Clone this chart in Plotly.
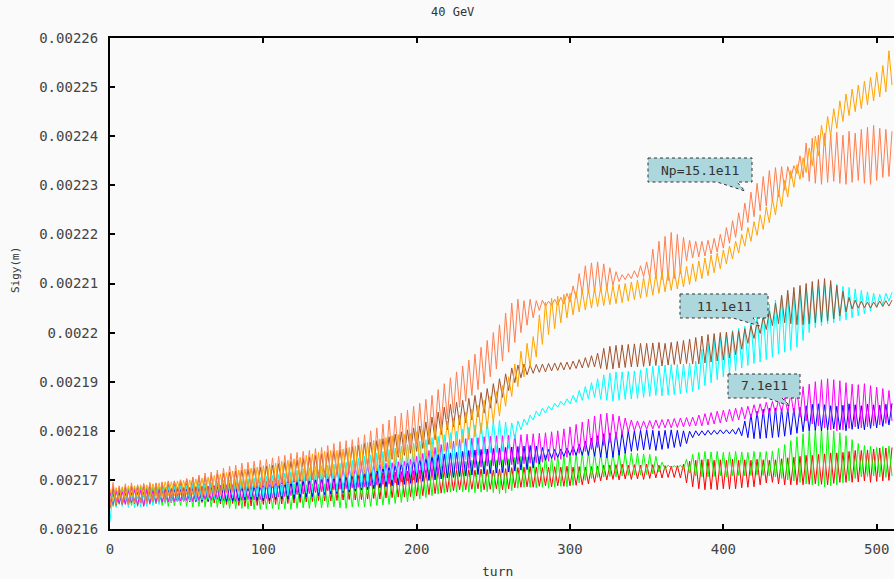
import plotly.graph_objects as go

# ---------------- data: sigma_y in micrometres, one value every 2 turns ----------------
step_turns = 2

sig_coral_um = [
    2164.5, 2169.5, 2165.0, 2168.8, 2165.2, 2169.2, 2165.0, 2169.4, 2165.3, 2169.0, 2165.4, 2169.3, 2165.2, 2169.5, 2165.5, 2169.4,
    2165.6, 2169.6, 2165.4, 2169.8, 2165.8, 2169.7, 2166.0, 2170.0, 2165.8, 2170.3, 2166.2, 2170.6, 2166.4, 2171.0, 2166.6, 2171.4,
    2166.5, 2171.6, 2166.8, 2172.0, 2167.0, 2172.4, 2167.3, 2172.8, 2167.5, 2173.0, 2167.8, 2173.4, 2168.2, 2173.6, 2168.4, 2173.8,
    2168.6, 2174.0, 2168.8, 2174.2, 2169.0, 2174.5, 2169.2, 2174.8, 2169.4, 2175.0, 2169.6, 2175.4, 2169.8, 2175.6, 2170.0, 2175.8,
    2170.0, 2176.0, 2170.2, 2176.4, 2170.4, 2176.6, 2170.6, 2177.0, 2170.8, 2177.4, 2171.0, 2177.8, 2171.2, 2178.0, 2171.4, 2178.2,
    2171.6, 2178.6, 2171.8, 2179.2, 2172.2, 2180.0, 2172.6, 2180.6, 2173.0, 2181.4, 2173.6, 2182.2, 2174.4, 2183.0, 2175.0, 2183.6,
    2175.6, 2184.2, 2176.4, 2185.0, 2177.2, 2185.6, 2178.0, 2186.4, 2178.8, 2187.2, 2179.8, 2188.4, 2181.0, 2189.6, 2182.4, 2190.8,
    2183.6, 2192.0, 2184.8, 2193.2, 2186.0, 2194.4, 2187.2, 2195.6, 2188.4, 2197.0, 2189.6, 2198.4, 2191.0, 2200.0, 2192.6, 2201.6,
    2194.2, 2204.0, 2196.0, 2206.0, 2198.0, 2206.8, 2200.0, 2206.5, 2201.5, 2206.8, 2203.0, 2206.5, 2204.5, 2206.6, 2205.4, 2206.4,
    2205.5, 2206.8, 2205.6, 2207.2, 2205.8, 2208.0, 2206.2, 2209.5, 2207.0, 2212.0, 2207.8, 2213.6, 2208.0, 2214.2, 2208.2, 2214.4,
    2208.4, 2214.0, 2208.8, 2213.2, 2209.6, 2212.4, 2210.4, 2211.8, 2210.8, 2212.0, 2211.0, 2212.6, 2211.2, 2213.6, 2211.4, 2214.4,
    2211.2, 2217.0, 2211.0, 2218.6, 2210.8, 2219.6, 2210.6, 2220.4, 2211.0, 2220.0, 2212.0, 2219.4, 2214.6, 2218.8, 2215.2, 2218.6,
    2215.4, 2218.6, 2215.6, 2218.8, 2216.0, 2219.2, 2216.4, 2220.0, 2217.2, 2221.4, 2218.2, 2222.8, 2219.4, 2224.4, 2220.8, 2226.4,
    2222.4, 2228.6, 2223.6, 2230.4, 2224.8, 2231.8, 2225.8, 2233.0, 2226.6, 2233.6, 2227.6, 2233.8, 2229.0, 2233.8, 2231.4, 2234.0,
    2232.4, 2236.0, 2231.6, 2238.6, 2230.8, 2239.6, 2230.4, 2240.2, 2230.2, 2240.6, 2230.6, 2240.4, 2230.8, 2240.8, 2230.4, 2240.2,
    2230.2, 2241.0, 2230.6, 2240.6, 2231.0, 2241.4, 2230.4, 2241.8, 2230.2, 2242.2, 2231.0, 2241.6, 2231.6, 2241.4, 2231.8, 2241.0,
]

sig_orange_um = [
    2168.2, 2165.6, 2168.4, 2166.0, 2168.6, 2166.0, 2168.8, 2166.2, 2168.8, 2166.2, 2169.0, 2166.4, 2169.0, 2166.4, 2169.2, 2166.6,
    2169.4, 2166.6, 2169.6, 2166.8, 2169.6, 2166.8, 2169.8, 2167.0, 2169.9, 2167.0, 2170.0, 2167.0, 2170.2, 2166.8, 2170.4, 2167.0,
    2170.6, 2167.0, 2170.9, 2167.3, 2171.2, 2167.6, 2171.5, 2167.8, 2171.8, 2168.0, 2172.0, 2168.2, 2172.2, 2168.2, 2172.4, 2168.4,
    2172.6, 2168.4, 2172.9, 2168.3, 2173.2, 2168.6, 2173.4, 2168.8, 2173.8, 2169.0, 2174.0, 2169.2, 2174.3, 2169.5, 2174.6, 2169.7,
    2175.0, 2169.8, 2175.3, 2170.0, 2175.6, 2170.1, 2175.8, 2170.2, 2176.0, 2170.2, 2176.0, 2170.3, 2176.3, 2170.5, 2176.6, 2170.7,
    2176.9, 2170.9, 2177.2, 2171.2, 2177.6, 2171.5, 2178.0, 2171.8, 2178.3, 2172.2, 2178.6, 2172.5, 2179.0, 2172.8, 2179.2, 2173.1,
    2179.3, 2173.4, 2179.5, 2173.6, 2179.8, 2173.9, 2180.0, 2174.2, 2180.4, 2174.6, 2180.8, 2175.2, 2181.4, 2175.8, 2182.0, 2176.4,
    2182.6, 2177.0, 2183.2, 2177.6, 2183.8, 2178.2, 2184.4, 2178.8, 2185.2, 2179.4, 2186.2, 2180.4, 2187.0, 2181.6, 2188.0, 2183.0,
    2189.2, 2185.0, 2191.0, 2187.0, 2193.6, 2189.0, 2196.2, 2191.0, 2197.8, 2193.0, 2199.2, 2195.0, 2203.6, 2197.6, 2206.2, 2199.6,
    2207.0, 2200.8, 2207.4, 2202.0, 2207.8, 2203.0, 2208.0, 2203.6, 2208.3, 2204.2, 2208.6, 2204.6, 2208.8, 2205.0, 2209.0, 2205.3,
    2209.2, 2205.5, 2209.4, 2205.7, 2209.6, 2205.9, 2209.8, 2206.1, 2210.0, 2206.4, 2210.3, 2206.7, 2210.7, 2207.0, 2211.2, 2207.3,
    2211.6, 2207.6, 2212.0, 2208.0, 2212.3, 2208.3, 2212.5, 2208.6, 2212.6, 2208.9, 2213.0, 2209.3, 2213.5, 2209.8, 2214.0, 2210.4,
    2214.6, 2211.0, 2215.2, 2211.6, 2215.8, 2212.2, 2216.2, 2213.0, 2216.8, 2214.0, 2217.6, 2215.0, 2218.6, 2216.2, 2220.0, 2217.6,
    2221.4, 2218.6, 2222.6, 2219.8, 2224.0, 2221.0, 2225.6, 2222.4, 2227.2, 2224.0, 2229.0, 2225.6, 2231.0, 2227.6, 2233.0, 2229.6,
    2234.2, 2231.2, 2235.6, 2232.6, 2237.6, 2234.0, 2240.0, 2236.0, 2242.2, 2238.0, 2244.0, 2240.0, 2245.6, 2241.6, 2247.2, 2243.0,
    2248.6, 2244.2, 2249.6, 2245.0, 2250.4, 2245.6, 2251.2, 2246.4, 2252.0, 2247.2, 2253.0, 2248.0, 2254.4, 2249.0, 2257.4, 2250.4,
]

sig_brown_um = [
    2164.2, 2168.6, 2164.8, 2168.4, 2165.0, 2168.6, 2165.2, 2168.8, 2165.4, 2168.8, 2165.5, 2169.0, 2165.6, 2169.1, 2165.8, 2169.2,
    2166.0, 2169.4, 2166.1, 2169.6, 2166.3, 2169.8, 2166.5, 2170.0, 2166.6, 2170.2, 2166.8, 2170.4, 2167.0, 2170.6, 2167.1, 2170.8,
    2167.2, 2171.0, 2167.4, 2171.2, 2167.5, 2171.4, 2167.6, 2171.6, 2167.8, 2171.8, 2168.0, 2172.0, 2168.1, 2172.2, 2168.3, 2172.4,
    2168.4, 2172.6, 2168.6, 2172.8, 2168.8, 2173.0, 2169.0, 2173.3, 2169.2, 2173.6, 2169.4, 2173.8, 2169.6, 2174.1, 2169.8, 2174.4,
    2169.9, 2174.7, 2170.1, 2175.0, 2170.4, 2175.3, 2170.7, 2175.6, 2171.0, 2175.9, 2171.3, 2176.2, 2171.6, 2176.5, 2171.9, 2176.8,
    2172.2, 2177.1, 2172.5, 2177.4, 2172.8, 2177.7, 2173.1, 2178.0, 2173.4, 2178.4, 2173.8, 2178.8, 2174.2, 2179.3, 2174.6, 2179.8,
    2175.0, 2180.2, 2175.4, 2180.6, 2175.8, 2181.0, 2176.4, 2181.8, 2177.2, 2182.8, 2178.2, 2183.8, 2179.2, 2184.8, 2180.2, 2185.4,
    2180.8, 2185.8, 2181.2, 2186.2, 2181.6, 2186.6, 2182.2, 2187.2, 2182.8, 2187.8, 2183.6, 2188.6, 2184.6, 2189.6, 2185.6, 2190.6,
    2186.8, 2191.6, 2188.2, 2192.8, 2189.8, 2193.4, 2190.8, 2193.6, 2191.4, 2193.4, 2191.7, 2193.5, 2191.9, 2193.6, 2192.0, 2193.7,
    2192.2, 2193.8, 2192.3, 2193.9, 2192.4, 2194.0, 2192.5, 2194.2, 2192.7, 2194.5, 2192.8, 2194.9, 2192.9, 2195.3, 2193.0, 2195.8,
    2192.7, 2196.8, 2192.5, 2197.2, 2192.6, 2197.4, 2192.8, 2197.5, 2192.9, 2197.6, 2193.0, 2197.7, 2193.0, 2197.8, 2193.1, 2197.8,
    2193.2, 2197.9, 2193.3, 2198.0, 2193.2, 2197.8, 2193.4, 2198.0, 2193.5, 2198.2, 2193.6, 2198.4, 2193.7, 2198.7, 2193.6, 2199.0,
    2193.6, 2199.3, 2193.8, 2199.6, 2194.0, 2199.8, 2194.2, 2200.0, 2194.4, 2200.1, 2194.8, 2200.2, 2195.5, 2200.4, 2196.6, 2200.8,
    2197.8, 2201.4, 2198.8, 2202.2, 2199.8, 2203.2, 2200.6, 2204.4, 2201.4, 2206.0, 2201.8, 2207.6, 2202.0, 2208.6, 2201.8, 2209.2,
    2201.6, 2209.6, 2201.6, 2210.0, 2201.8, 2210.4, 2202.0, 2210.8, 2202.2, 2211.0, 2202.4, 2210.6, 2202.8, 2209.6, 2203.4, 2208.4,
    2204.2, 2207.2, 2204.8, 2206.6, 2205.0, 2206.4, 2205.1, 2206.2, 2205.0, 2206.2, 2205.2, 2206.4, 2205.3, 2206.5, 2205.4, 2206.6,
]

sig_cyan_um = [
    2161.5, 2168.0, 2164.4, 2168.4, 2164.6, 2168.0, 2164.4, 2168.2, 2164.3, 2168.2, 2164.5, 2168.3, 2164.6, 2168.4, 2164.8, 2168.5,
    2165.0, 2168.6, 2165.2, 2168.7, 2165.4, 2168.8, 2165.5, 2168.9, 2165.6, 2169.0, 2165.7, 2169.1, 2165.8, 2169.2, 2165.9, 2169.3,
    2166.0, 2169.5, 2166.0, 2169.7, 2166.1, 2169.9, 2166.2, 2170.0, 2166.3, 2170.1, 2166.4, 2170.2, 2166.5, 2170.3, 2166.5, 2170.4,
    2166.5, 2170.5, 2166.3, 2170.7, 2166.4, 2170.9, 2166.5, 2171.1, 2166.7, 2171.4, 2166.8, 2171.7, 2167.0, 2172.0, 2167.1, 2172.3,
    2167.3, 2172.5, 2167.4, 2172.7, 2167.5, 2172.9, 2167.5, 2173.0, 2167.7, 2173.2, 2167.6, 2173.4, 2167.7, 2173.6, 2168.0, 2174.0,
    2168.2, 2174.4, 2168.4, 2174.8, 2168.6, 2175.1, 2169.0, 2175.5, 2169.3, 2175.8, 2169.7, 2176.2, 2170.0, 2176.5, 2170.4, 2176.9,
    2170.7, 2177.2, 2171.0, 2177.5, 2171.4, 2177.9, 2171.8, 2178.2, 2172.1, 2178.6, 2172.4, 2178.9, 2172.8, 2179.2, 2173.1, 2179.6,
    2173.4, 2179.9, 2173.7, 2180.3, 2174.1, 2180.7, 2174.6, 2181.2, 2175.0, 2181.6, 2175.3, 2181.9, 2175.5, 2182.1, 2175.6, 2182.1,
    2175.8, 2181.8, 2176.4, 2181.6, 2178.4, 2182.0, 2180.2, 2182.4, 2181.2, 2183.2, 2182.2, 2184.0, 2183.0, 2184.6, 2183.6, 2185.0,
    2184.2, 2185.6, 2184.8, 2186.0, 2185.2, 2186.5, 2185.5, 2187.2, 2185.8, 2188.2, 2186.2, 2189.0, 2186.5, 2189.8, 2186.8, 2190.6,
    2186.4, 2191.4, 2186.2, 2191.8, 2186.0, 2192.0, 2186.2, 2192.0, 2186.4, 2192.1, 2186.5, 2192.2, 2186.6, 2192.4, 2186.8, 2192.8,
    2187.0, 2193.1, 2187.2, 2193.3, 2187.1, 2193.4, 2187.3, 2193.5, 2187.4, 2193.5, 2187.5, 2193.6, 2187.8, 2193.8, 2188.0, 2194.2,
    2188.4, 2196.6, 2189.2, 2197.8, 2189.8, 2198.6, 2190.4, 2199.2, 2191.0, 2199.8, 2191.6, 2200.4, 2192.2, 2200.9, 2192.8, 2201.3,
    2193.3, 2202.8, 2193.7, 2204.0, 2194.0, 2205.0, 2194.5, 2205.8, 2195.0, 2206.6, 2195.6, 2207.4, 2196.0, 2207.9, 2196.4, 2208.2,
    2197.0, 2208.6, 2198.4, 2209.0, 2200.0, 2209.2, 2201.0, 2209.5, 2201.4, 2209.8, 2201.8, 2210.0, 2202.0, 2209.8, 2202.4, 2209.4,
    2202.6, 2209.2, 2203.0, 2208.9, 2203.4, 2208.6, 2203.8, 2208.3, 2204.4, 2208.0, 2205.0, 2207.8, 2205.6, 2208.0, 2206.4, 2208.2,
]

sig_magenta_um = [
    2167.5, 2165.0, 2167.8, 2165.2, 2167.6, 2165.0, 2167.8, 2165.3, 2168.0, 2164.8, 2167.9, 2164.6, 2168.0, 2165.2, 2167.8, 2165.4,
    2168.0, 2165.5, 2168.1, 2165.5, 2168.2, 2165.6, 2168.2, 2165.7, 2168.3, 2165.8, 2168.4, 2165.6, 2168.5, 2165.8, 2168.6, 2166.0,
    2168.7, 2165.8, 2168.8, 2166.0, 2168.9, 2165.8, 2169.0, 2165.8, 2169.0, 2165.6, 2169.1, 2165.8, 2169.2, 2166.0, 2169.3, 2165.9,
    2169.4, 2166.0, 2169.6, 2166.2, 2169.8, 2166.3, 2170.0, 2166.5, 2170.3, 2166.6, 2170.5, 2166.8, 2170.8, 2167.0, 2171.0, 2167.1,
    2171.2, 2167.2, 2171.4, 2167.4, 2171.6, 2167.6, 2171.8, 2167.8, 2172.0, 2168.0, 2172.2, 2168.1, 2172.4, 2168.2, 2172.5, 2168.4,
    2172.6, 2168.5, 2172.8, 2168.6, 2173.0, 2168.8, 2173.1, 2169.0, 2173.2, 2169.1, 2173.4, 2169.2, 2173.5, 2169.4, 2173.7, 2169.6,
    2173.8, 2169.8, 2174.2, 2170.0, 2174.8, 2170.2, 2175.4, 2170.5, 2176.0, 2170.8, 2176.6, 2171.2, 2177.2, 2171.6, 2177.6, 2172.0,
    2177.9, 2172.1, 2178.2, 2172.2, 2178.4, 2172.3, 2178.5, 2172.5, 2178.6, 2172.6, 2178.8, 2172.8, 2178.9, 2172.9, 2179.0, 2173.0,
    2179.0, 2173.0, 2179.1, 2173.1, 2179.2, 2173.2, 2179.2, 2173.3, 2179.3, 2173.4, 2179.4, 2173.5, 2179.5, 2173.6, 2179.6, 2173.8,
    2179.8, 2174.0, 2180.0, 2174.2, 2180.4, 2174.6, 2180.8, 2175.0, 2181.3, 2175.4, 2181.8, 2175.8, 2182.4, 2176.2, 2183.0, 2176.6,
    2183.4, 2177.0, 2183.6, 2177.6, 2183.4, 2178.4, 2183.0, 2179.2, 2182.6, 2179.8, 2182.2, 2180.0, 2182.0, 2180.2, 2182.0, 2180.3,
    2182.1, 2180.4, 2182.2, 2180.5, 2182.3, 2180.6, 2182.4, 2180.6, 2182.5, 2180.7, 2182.6, 2180.8, 2182.7, 2180.9, 2182.8, 2181.0,
    2183.2, 2181.0, 2183.5, 2181.2, 2183.7, 2181.4, 2184.0, 2181.6, 2184.2, 2181.8, 2184.4, 2182.0, 2184.6, 2182.2, 2184.8, 2182.4,
    2185.0, 2182.7, 2185.3, 2183.0, 2185.5, 2183.2, 2185.8, 2183.4, 2186.0, 2183.6, 2186.3, 2183.8, 2186.8, 2183.8, 2187.6, 2183.4,
    2188.4, 2182.8, 2189.0, 2182.0, 2189.5, 2181.4, 2190.0, 2181.0, 2190.4, 2180.6, 2190.6, 2180.2, 2190.4, 2180.0, 2190.2, 2180.2,
    2189.8, 2180.5, 2189.5, 2180.8, 2189.4, 2180.6, 2189.6, 2180.8, 2189.2, 2181.0, 2188.9, 2181.2, 2188.6, 2181.5, 2188.2, 2182.0,
]

sig_blue_um = [
    2165.0, 2167.2, 2165.0, 2167.4, 2165.1, 2167.3, 2165.0, 2167.4, 2165.2, 2167.5, 2165.3, 2167.5, 2165.4, 2167.6, 2165.4, 2167.7,
    2165.5, 2167.8, 2165.5, 2167.9, 2165.6, 2168.0, 2165.6, 2168.0, 2165.7, 2168.1, 2165.8, 2168.2, 2165.6, 2168.2, 2165.7, 2168.3,
    2165.8, 2168.4, 2165.9, 2168.5, 2165.7, 2168.5, 2165.6, 2168.6, 2165.7, 2168.7, 2165.8, 2168.8, 2165.9, 2168.8, 2166.0, 2168.9,
    2165.8, 2169.0, 2165.7, 2169.1, 2165.8, 2169.3, 2166.0, 2169.4, 2166.1, 2169.6, 2166.1, 2169.7, 2166.2, 2169.9, 2166.4, 2170.0,
    2166.5, 2170.2, 2166.6, 2170.4, 2166.8, 2170.6, 2167.0, 2170.8, 2167.1, 2171.0, 2167.2, 2171.1, 2167.4, 2171.3, 2167.5, 2171.5,
    2167.7, 2171.7, 2167.9, 2171.9, 2168.0, 2172.1, 2168.2, 2172.4, 2168.4, 2172.7, 2168.6, 2173.0, 2168.8, 2173.3, 2169.0, 2173.6,
    2169.1, 2174.0, 2169.3, 2174.3, 2169.5, 2174.6, 2169.7, 2174.8, 2169.9, 2175.0, 2170.0, 2175.2, 2170.2, 2175.3, 2170.4, 2175.5,
    2170.5, 2175.6, 2170.7, 2175.8, 2170.8, 2176.0, 2171.0, 2176.1, 2171.1, 2176.2, 2171.2, 2176.3, 2171.3, 2176.4, 2171.4, 2176.5,
    2171.5, 2176.6, 2171.6, 2176.7, 2171.8, 2176.8, 2172.0, 2176.9, 2172.1, 2177.0, 2172.4, 2176.9, 2173.2, 2176.6, 2174.0, 2176.2,
    2174.4, 2176.2, 2174.6, 2176.3, 2174.8, 2176.5, 2175.0, 2176.8, 2175.0, 2177.3, 2175.0, 2177.9, 2175.0, 2178.5, 2174.8, 2179.0,
    2174.6, 2179.4, 2174.5, 2179.6, 2174.6, 2179.7, 2175.0, 2179.8, 2175.4, 2180.0, 2175.8, 2180.0, 2176.0, 2180.1, 2176.1, 2180.2,
    2176.2, 2180.1, 2176.0, 2180.0, 2176.2, 2180.1, 2176.4, 2180.2, 2176.6, 2180.1, 2176.8, 2180.0, 2177.4, 2179.9, 2178.6, 2180.0,
    2179.0, 2180.0, 2179.1, 2180.1, 2179.2, 2180.1, 2179.3, 2180.2, 2179.4, 2180.2, 2179.4, 2180.3, 2179.3, 2180.6, 2179.0, 2182.0,
    2178.6, 2183.4, 2178.4, 2184.0, 2178.4, 2184.4, 2178.5, 2184.6, 2178.6, 2184.6, 2178.7, 2184.5, 2178.9, 2184.5, 2179.2, 2184.6,
    2179.5, 2184.8, 2179.8, 2185.1, 2180.0, 2185.4, 2180.1, 2185.5, 2180.0, 2185.3, 2180.2, 2185.1, 2180.4, 2185.0, 2180.2, 2185.2,
    2180.0, 2185.5, 2180.3, 2185.3, 2180.4, 2185.1, 2180.2, 2185.4, 2180.5, 2185.3, 2180.6, 2185.2, 2180.9, 2185.4, 2181.2, 2185.6,
]

sig_green_um = [
    2167.5, 2164.6, 2168.0, 2165.0, 2168.4, 2165.2, 2168.3, 2164.8, 2168.5, 2164.6, 2168.6, 2164.8, 2168.4, 2165.0, 2168.5, 2165.1,
    2168.6, 2164.8, 2168.5, 2164.6, 2168.4, 2164.7, 2168.6, 2164.8, 2168.6, 2164.6, 2168.5, 2164.5, 2168.7, 2164.6, 2168.8, 2164.5,
    2168.7, 2164.5, 2168.8, 2164.4, 2168.6, 2164.3, 2168.8, 2164.2, 2168.9, 2164.1, 2169.0, 2164.2, 2169.0, 2164.1, 2169.0, 2164.0,
    2169.1, 2164.0, 2169.0, 2164.1, 2169.1, 2164.2, 2169.2, 2164.0, 2169.0, 2164.1, 2169.2, 2164.0, 2169.1, 2164.2, 2169.2, 2164.3,
    2169.0, 2164.2, 2169.2, 2164.4, 2169.1, 2164.3, 2169.2, 2164.4, 2169.3, 2164.5, 2169.2, 2164.3, 2169.4, 2164.2, 2169.3, 2164.5,
    2169.4, 2164.6, 2169.5, 2164.5, 2169.6, 2164.6, 2169.7, 2164.8, 2169.8, 2164.9, 2170.0, 2165.0, 2170.2, 2165.2, 2170.5, 2165.4,
    2170.8, 2165.5, 2171.1, 2165.8, 2171.5, 2166.1, 2171.9, 2166.4, 2172.3, 2166.8, 2172.8, 2167.1, 2173.3, 2167.3, 2173.7, 2167.5,
    2173.8, 2167.5, 2174.0, 2167.6, 2173.8, 2167.5, 2174.0, 2167.4, 2173.7, 2167.5, 2173.8, 2167.6, 2174.0, 2167.4, 2174.0, 2167.2,
    2174.1, 2167.3, 2174.3, 2167.8, 2174.6, 2168.3, 2174.8, 2168.5, 2174.7, 2168.5, 2174.6, 2168.4, 2174.8, 2168.5, 2175.0, 2168.3,
    2174.7, 2168.5, 2174.9, 2168.7, 2175.0, 2168.6, 2175.2, 2168.9, 2175.5, 2169.4, 2175.7, 2169.9, 2175.8, 2170.3, 2175.6, 2170.5,
    2175.5, 2170.6, 2175.6, 2170.7, 2175.6, 2170.6, 2175.5, 2170.8, 2175.6, 2170.9, 2175.5, 2171.0, 2175.4, 2171.0, 2175.3, 2171.1,
    2175.2, 2171.2, 2174.8, 2171.6, 2173.6, 2172.2, 2173.0, 2172.4, 2172.9, 2172.4, 2173.0, 2172.2, 2174.2, 2171.4, 2175.2, 2170.8,
    2175.6, 2170.6, 2175.8, 2170.6, 2175.7, 2170.7, 2175.8, 2170.8, 2175.6, 2170.6, 2175.7, 2170.8, 2175.8, 2170.9, 2175.7, 2170.8,
    2175.6, 2170.9, 2175.8, 2171.0, 2175.7, 2170.9, 2175.8, 2170.8, 2175.9, 2170.6, 2176.4, 2170.3, 2177.2, 2170.0, 2178.0, 2169.8,
    2178.8, 2169.5, 2179.4, 2169.2, 2180.0, 2169.0, 2180.4, 2168.8, 2180.6, 2168.6, 2180.4, 2168.8, 2180.0, 2169.0, 2179.6, 2169.4,
    2179.0, 2169.8, 2178.2, 2170.3, 2177.4, 2170.6, 2177.0, 2170.7, 2176.8, 2170.8, 2176.6, 2170.6, 2176.8, 2170.5, 2176.9, 2170.8,
]

sig_red_um = [
    2164.8, 2168.2, 2165.2, 2168.4, 2165.0, 2168.3, 2165.4, 2168.6, 2165.2, 2168.5, 2165.4, 2168.7, 2165.5, 2168.6, 2165.5, 2168.8,
    2165.4, 2168.8, 2165.5, 2168.9, 2165.3, 2169.0, 2165.5, 2169.1, 2165.6, 2169.2, 2165.5, 2169.0, 2165.6, 2169.1, 2165.4, 2169.2,
    2165.5, 2169.3, 2165.3, 2169.4, 2165.1, 2169.3, 2165.0, 2169.4, 2165.2, 2169.5, 2164.8, 2169.5, 2164.6, 2169.6, 2164.7, 2169.5,
    2164.8, 2169.6, 2165.0, 2169.7, 2165.1, 2169.8, 2165.0, 2169.9, 2165.1, 2170.0, 2165.2, 2170.0, 2165.3, 2170.1, 2165.4, 2170.2,
    2165.5, 2170.3, 2165.6, 2170.4, 2165.8, 2170.5, 2165.7, 2170.6, 2165.7, 2170.7, 2165.8, 2170.8, 2165.9, 2170.9, 2166.0, 2171.0,
    2165.9, 2171.0, 2166.0, 2171.1, 2166.1, 2171.2, 2166.2, 2171.3, 2166.1, 2171.4, 2166.3, 2171.5, 2166.4, 2171.6, 2166.5, 2171.7,
    2166.5, 2171.8, 2166.6, 2171.9, 2166.7, 2172.0, 2166.8, 2172.0, 2167.0, 2172.1, 2167.2, 2172.2, 2167.3, 2172.0, 2167.5, 2172.2,
    2167.8, 2172.0, 2168.0, 2172.2, 2168.0, 2172.1, 2168.1, 2172.0, 2168.2, 2172.2, 2168.0, 2172.1, 2168.1, 2172.0, 2168.2, 2172.2,
    2168.0, 2172.3, 2168.2, 2172.5, 2168.4, 2172.5, 2168.5, 2172.6, 2168.6, 2172.7, 2168.5, 2172.6, 2168.7, 2172.5, 2168.8, 2172.6,
    2168.6, 2172.7, 2168.8, 2172.6, 2168.7, 2172.8, 2168.8, 2172.6, 2168.9, 2172.7, 2169.0, 2172.6, 2169.2, 2172.7, 2169.5, 2172.8,
    2169.8, 2173.0, 2170.0, 2173.0, 2170.1, 2173.1, 2170.0, 2173.2, 2170.2, 2173.0, 2170.1, 2173.1, 2170.2, 2173.0, 2170.1, 2173.2,
    2170.3, 2173.1, 2170.4, 2173.0, 2170.4, 2172.9, 2170.5, 2172.8, 2170.5, 2172.9, 2170.4, 2173.2, 2169.4, 2173.8, 2168.6, 2174.0,
    2168.2, 2174.1, 2168.0, 2174.2, 2168.1, 2174.0, 2168.0, 2174.1, 2168.2, 2174.0, 2168.1, 2174.2, 2168.2, 2174.0, 2168.4, 2174.1,
    2168.5, 2174.0, 2168.6, 2174.2, 2169.0, 2174.1, 2169.4, 2174.0, 2169.5, 2174.1, 2169.2, 2174.3, 2169.0, 2174.5, 2169.0, 2174.6,
    2169.0, 2174.8, 2169.0, 2175.0, 2169.1, 2175.0, 2169.2, 2175.2, 2169.1, 2175.3, 2169.0, 2175.5, 2169.3, 2175.5, 2169.5, 2175.6,
    2169.5, 2175.8, 2169.5, 2176.0, 2169.6, 2176.0, 2169.8, 2176.1, 2169.5, 2176.3, 2169.7, 2176.5, 2169.8, 2176.5, 2169.9, 2176.6,
]

series_order = ["red", "green", "blue", "magenta", "cyan", "brown", "coral", "orange"]
series_values = {
    "red": sig_red_um,
    "green": sig_green_um,
    "blue": sig_blue_um,
    "magenta": sig_magenta_um,
    "cyan": sig_cyan_um,
    "brown": sig_brown_um,
    "coral": sig_coral_um,
    "orange": sig_orange_um,
}
series_colors = {
    "red": "#ff0000",
    "green": "#00ff00",
    "blue": "#0000ff",
    "magenta": "#ff00ff",
    "cyan": "#00ffff",
    "brown": "#a0522d",
    "coral": "#ff7f50",
    "orange": "#ffa500",
}

y_tick_values = [0.00216, 0.00217, 0.00218, 0.00219, 0.0022, 0.00221,
                 0.00222, 0.00223, 0.00224, 0.00225, 0.00226]
y_tick_labels = ["0.00216", "0.00217", "0.00218", "0.00219", "0.0022", "0.00221",
                 "0.00222", "0.00223", "0.00224", "0.00225", "0.00226"]
x_tick_values = [0, 100, 200, 300, 400, 500]

callout_texts = ["Np=15.1e11", "11.1e11", "7.1e11"]

# ---------------- figure ----------------
W, H = 894, 579
ML, MR, MT, MB = 110, 0, 38, 50
PW, PH = W - ML - MR, H - MT - MB

fig = go.Figure()
for name in series_order:
    vals = series_values[name]
    turns = list(range(0, step_turns * len(vals), step_turns))
    fig.add_trace(go.Scatter(
        x=turns, y=[v * 1e-6 for v in vals], mode="lines",
        line=dict(color=series_colors[name], width=1),
        name=name, showlegend=False, hoverinfo="skip",
    ))


def pp(px, py):
    """pixel position -> paper coordinates"""
    return (px - ML) / PW, (H - MB - py) / PH


# callout boxes: (left, right, top, bottom, tail_a, tail_b, tip_x, tip_y) in pixels
callout_geom = [
    (648, 752, 158, 182, 717, 737, 745, 191),
    (680, 768, 294, 318, 733, 753, 760, 326),
    (728, 800, 374, 398, 767, 782, 790, 406),
]
shapes = []
annotations = []
for text, (l, r, t, b, ta, tb, tx, ty) in zip(callout_texts, callout_geom):
    pts = [(l, t), (r, t), (r, b), (tb, b), (tx, ty), (ta, b), (l, b)]
    path = "M " + " L ".join("%.5f,%.5f" % pp(*p) for p in pts) + " Z"
    shapes.append(dict(type="path", xref="paper", yref="paper", path=path,
                       fillcolor="#acd7dd", line=dict(color="#333333", width=1, dash="dot"),
                       layer="above"))
    cx, cy = pp((l + r) / 2, (t + b) / 2)
    annotations.append(dict(text=text, xref="paper", yref="paper", x=cx, y=cy,
                            xanchor="center", yanchor="middle", showarrow=False,
                            font=dict(family="DejaVu Sans Mono", size=13, color="#333333")))

tx_, ty_ = pp(452, 12)
annotations.append(dict(text="40 GeV", xref="paper", yref="paper", x=tx_, y=ty_,
                        xanchor="center", yanchor="middle", showarrow=False,
                        font=dict(family="DejaVu Sans Mono", size=12, color="#333333")))
ax_, ay_ = pp(497, 571)
annotations.append(dict(text="turn", xref="paper", yref="paper", x=ax_, y=ay_,
                        xanchor="center", yanchor="middle", showarrow=False,
                        font=dict(family="DejaVu Sans Mono", size=13, color="#333333")))
sx_, sy_ = pp(15, 270)
annotations.append(dict(text="Sigy(m)", xref="paper", yref="paper", x=sx_, y=sy_,
                        xanchor="center", yanchor="middle", showarrow=False, textangle=-90,
                        font=dict(family="DejaVu Sans Mono", size=11, color="#333333")))

axis_common = dict(showgrid=False, zeroline=False, showline=True, linecolor="black",
                   linewidth=2, ticks="inside", ticklen=5, tickwidth=2, tickcolor="black",
                   tickfont=dict(family="DejaVu Sans Mono", size=14, color="#444444"))

fig.update_layout(
    width=W, height=H,
    margin=dict(l=ML, r=MR, t=MT, b=MB, pad=0),
    paper_bgcolor="#fafafa", plot_bgcolor="#fafafa",
    xaxis=dict(range=[0, 511.3], tickvals=x_tick_values, mirror="ticks",
               ticklabelstandoff=6, **axis_common),
    yaxis=dict(range=[0.00216, 0.00226], tickvals=y_tick_values, ticktext=y_tick_labels,
               mirror=False, ticklabelstandoff=7, **axis_common),
    shapes=shapes, annotations=annotations,
)

fig.write_html(
    "out.html",
    config={"displayModeBar": False},
    post_script="document.body.style.margin='0';document.body.style.overflow='hidden';",
)
